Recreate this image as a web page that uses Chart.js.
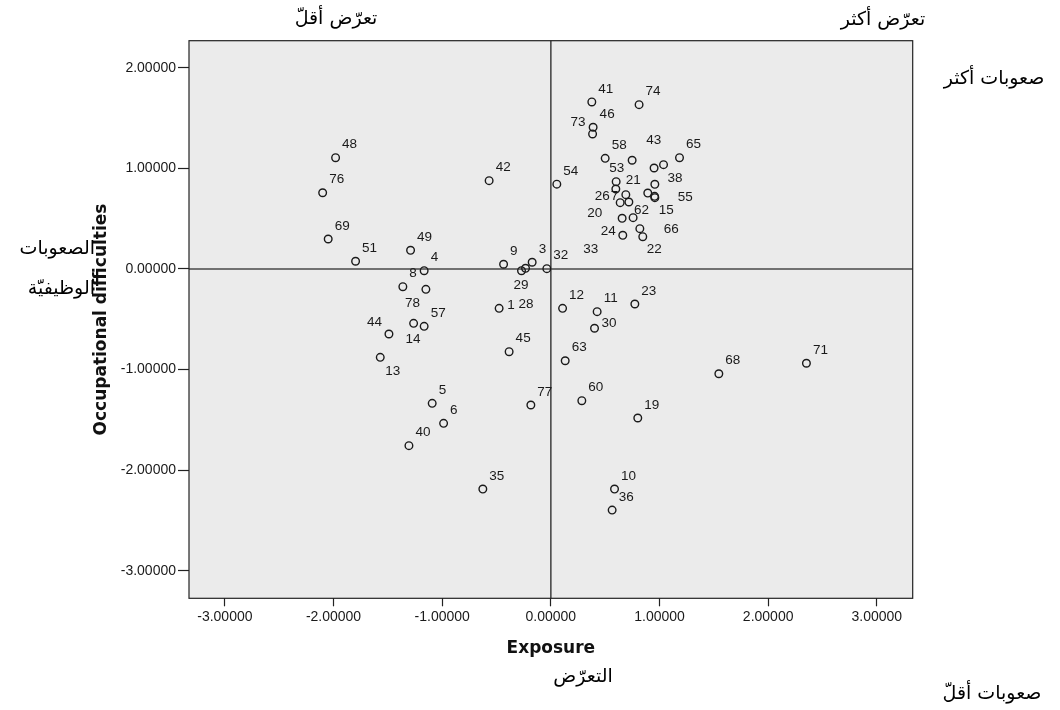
<!DOCTYPE html>
<html>
<head>
<meta charset="utf-8">
<script src="https://cdn.jsdelivr.net/npm/chart.js@4.4.1/dist/chart.umd.min.js"></script>
<style>
  html, body { margin: 0; padding: 0; background: #fff; }
  #wrap { position: relative; width: 1060px; height: 710px; }
  .ar { position: absolute; font-family: "DejaVu Sans", sans-serif; font-size: 19px; color: #000; direction: rtl; white-space: nowrap; line-height: 1; }
  .c { transform: translate(-50%, -50%); }
  .r { transform: translateY(-50%); }
</style>
</head>
<body>
<div id="wrap">
  <canvas id="myChart" width="1060" height="710"></canvas>
  <div class="ar c" style="left:336px;top:17px">تعرّض أقلّ</div>
  <div class="ar c" style="left:883px;top:18px">تعرّض أكثر</div>
  <div class="ar c" style="left:994px;top:77px">صعوبات أكثر</div>
  <div class="ar c" style="left:992px;top:692px">صعوبات أقلّ</div>
  <div class="ar r" style="right:965px;top:247px">الصعوبات</div>
  <div class="ar r" style="right:965px;top:287px">الوظيفيّة</div>
  <div class="ar c" style="left:583px;top:675px">التعرّض</div>
</div>
<script>
// Case numbers (null = point without a visible label)
const caseIds = [
  48, 76, 69, 51, 49, 4, 42, 9, 29, 28, 3, 32, 54,
  8, 78, 57, 14, 44, 13, 1, 45, 5, 6, 40, 35, 77,
  12, 11, 30, 23, 63, 60, 19, 68, 71, 10, 36,
  41, 74, 46, 73, 58, 43, 65, null, 38, 53, 26, 55, 21, null, 15, null, 20, 7, 33, 62, 66, 22, 24
];

// Exposure (x)
const exposure = [
  -1.981, -2.100, -2.049, -1.797, -1.291, -1.166, -0.568, -0.435, -0.270, -0.233, -0.172, -0.037, 0.055,
  -1.362, -1.150, -1.166, -1.263, -1.490, -1.570, -0.476, -0.384, -1.092, -0.987, -1.306, -0.626, -0.184,
  0.108, 0.426, 0.402, 0.773, 0.132, 0.285, 0.800, 1.546, 2.352, 0.586, 0.564,
  0.377, 0.812, 0.389, 0.384, 0.500, 0.748, 1.184, 0.950, 1.037, 0.601, 0.598, 0.957, 0.690, 0.892, 0.957, 0.955, 0.638, 0.718, 0.656, 0.757, 0.819, 0.846, 0.662
];

// Occupational difficulties (y)
const difficulties = [
  1.106, 0.758, 0.298, 0.077, 0.186, -0.017, 0.878, 0.047, -0.017, 0.007, 0.067, 0.003, 0.843,
  -0.176, -0.202, -0.570, -0.540, -0.646, -0.878, -0.391, -0.822, -1.335, -1.534, -1.756, -2.187, -1.352,
  -0.391, -0.424, -0.589, -0.348, -0.912, -1.309, -1.481, -1.041, -0.937, -2.187, -2.396,
  1.660, 1.633, 1.409, 1.342, 1.100, 1.081, 1.106, 1.004, 1.037, 0.868, 0.795, 0.842, 0.739, 0.755, 0.709, 0.722, 0.659, 0.666, 0.504, 0.510, 0.401, 0.321, 0.335
];

// Tick labels
const xTicks = [-3, -2, -1, 0, 1, 2, 3];
const yTicks = [2, 1, 0, -1, -2, -3];

// Label placement where the default (upper right) was moved to avoid overlap
const labelShift = {
  73: [-22, -12], 43: [14, -20], 53: [-7, -13], 21: [0, -14], 38: [4, 14],
  26: [-21, 7], 7: [-18, -6], 20: [-33, 11], 62: [1, -7], 15: [4, 13],
  55: [23, 13], 24: [-22, -4], 66: [24, 1], 22: [4, 13], 33: [-39, 31],
  29: [-8, 15], 28: [-7, 36], 78: [-21, 14], 14: [-8, 16], 44: [-22, -12],
  13: [5, 14], 1: [8, -3], 30: [7, -5]
};

const points = exposure.map((x, i) => ({ x: x, y: difficulties[i] }));

const plotBackground = {
  id: 'plotBackground',
  beforeDraw(chart) {
    const { ctx, chartArea: a } = chart;
    ctx.save();
    ctx.fillStyle = '#ebebeb';
    ctx.fillRect(a.left, a.top, a.right - a.left, a.bottom - a.top);
    ctx.restore();
  }
};

const referenceLines = {
  id: 'referenceLines',
  beforeDatasetsDraw(chart) {
    const { ctx, chartArea: a, scales } = chart;
    const x0 = scales.x.getPixelForValue(0);
    const y0 = scales.y.getPixelForValue(0);
    ctx.save();
    ctx.strokeStyle = '#4a4a4a';
    ctx.lineWidth = 1.6;
    ctx.beginPath();
    ctx.moveTo(x0, a.top);
    ctx.lineTo(x0, a.bottom);
    ctx.moveTo(a.left, y0);
    ctx.lineTo(a.right, y0);
    ctx.stroke();
    ctx.strokeStyle = '#222';
    ctx.lineWidth = 1.2;
    ctx.strokeRect(a.left, a.top, a.right - a.left, a.bottom - a.top);
    ctx.restore();
  }
};

const caseLabels = {
  id: 'caseLabels',
  afterDatasetsDraw(chart) {
    const { ctx } = chart;
    const meta = chart.getDatasetMeta(0);
    ctx.save();
    ctx.font = '13.5px "Liberation Sans", Arial, sans-serif';
    ctx.fillStyle = '#1a1a1a';
    ctx.textAlign = 'left';
    ctx.textBaseline = 'middle';
    meta.data.forEach((el, i) => {
      const id = caseIds[i];
      if (id === null) return;
      const shift = labelShift[id] || [6.5, -13];
      ctx.fillText(String(id), el.x + shift[0], el.y + shift[1]);
    });
    ctx.restore();
  }
};

const tickFont = { family: '"Liberation Sans", Arial, sans-serif', size: 14 };
const titleFont = { family: '"DejaVu Sans", sans-serif', size: 17, weight: 'bold' };

new Chart(document.getElementById('myChart').getContext('2d'), {
  type: 'scatter',
  data: {
    datasets: [{
      data: points,
      pointStyle: 'circle',
      pointRadius: 3.8,
      pointBorderWidth: 1.4,
      pointBorderColor: '#1a1a1a',
      pointBackgroundColor: 'rgba(0,0,0,0)'
    }]
  },
  options: {
    responsive: false,
    animation: false,
    events: [],
    layout: { padding: { left: 87, top: 40.7, right: 147.3, bottom: 47.5 } },
    plugins: { legend: { display: false }, tooltip: { enabled: false } },
    scales: {
      x: {
        type: 'linear',
        min: -3.33,
        max: 3.33,
        afterBuildTicks: (scale) => { scale.ticks = xTicks.map(v => ({ value: v })); },
        afterFit: (scale) => { scale.height = 64.2; },
        ticks: { font: tickFont, color: '#1a1a1a', padding: 2, callback: v => v.toFixed(5) },
        grid: { drawOnChartArea: false, tickLength: 8, color: '#222', tickWidth: 1.2 },
        border: { display: false },
        title: { display: true, text: 'Exposure', font: titleFont, color: '#111' }
      },
      y: {
        type: 'linear',
        min: -3.273,
        max: 2.269,
        afterBuildTicks: (scale) => { scale.ticks = yTicks.map(v => ({ value: v })); },
        afterFit: (scale) => { scale.width = 102; },
        ticks: { font: tickFont, color: '#1a1a1a', padding: 2, callback: v => v.toFixed(5) },
        grid: { drawOnChartArea: false, tickLength: 11, color: '#222', tickWidth: 1.2 },
        border: { display: false },
        title: { display: true, text: 'Occupational difficulties', font: titleFont, color: '#111' }
      }
    }
  },
  plugins: [plotBackground, referenceLines, caseLabels]
});
</script>
</body>
</html>
